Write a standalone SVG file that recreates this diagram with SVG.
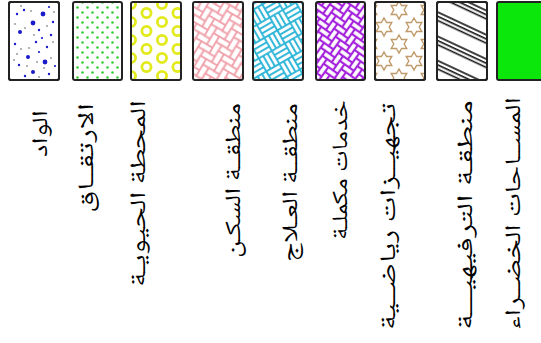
<svg xmlns="http://www.w3.org/2000/svg" xmlns:xlink="http://www.w3.org/1999/xlink" width="541" height="343" viewBox="0 0 541 343">
<style>
.sw{stroke:#222;stroke-width:2}
.lbl{font-family:"Noto Naskh Arabic","DejaVu Sans",sans-serif;font-size:22px;fill:#000}
.bd{fill:#1a1acc}
.gd{fill:#555}
</style>
<defs>
<path id="star" d="M0,-9 L2.6,-4.5 L7.79,-4.5 L5.2,0 L7.79,4.5 L2.6,4.5 L0,9 L-2.6,4.5 L-7.79,4.5 L-5.2,0 L-7.79,-4.5 L-2.6,-4.5 Z" fill="none" stroke="#c09a6a" stroke-width="1.4"/>
<pattern id="pGreen" width="10" height="10" patternUnits="userSpaceOnUse">
<circle cx="2.5" cy="2.5" r="1.3" fill="#3c3"/><circle cx="7.5" cy="7.5" r="1.3" fill="#3c3"/>
</pattern>
<pattern id="pYellow" width="31" height="18" patternUnits="userSpaceOnUse">
<g fill="none" stroke="#e2ea1c" stroke-width="2.8">
<circle cx="7" cy="4" r="4.6"/><circle cx="38" cy="4" r="4.6"/><circle cx="7" cy="22" r="4.6"/><circle cx="38" cy="22" r="4.6"/>
<circle cx="22.5" cy="13" r="4.6"/><circle cx="-8.5" cy="13" r="4.6"/><circle cx="22.5" cy="-5" r="4.6"/><circle cx="-8.5" cy="-5" r="4.6"/>
</g>
</pattern>
<g id="hb">
<rect x="-1" y="-1" width="2" height="1"/><rect x="3" y="-1" width="2" height="1"/><rect x="0" y="0" width="2" height="1"/><rect x="4" y="0" width="2" height="1"/>
<rect x="1" y="1" width="2" height="1"/><rect x="2" y="2" width="2" height="1"/><rect x="-2" y="2" width="2" height="1"/><rect x="3" y="3" width="2" height="1"/>
<rect x="-1" y="3" width="2" height="1"/><rect x="4" y="4" width="2" height="1"/><rect x="0" y="4" width="2" height="1"/>
<rect x="1" y="-2" width="1" height="2"/><rect x="2" y="-1" width="1" height="2"/><rect x="-1" y="0" width="1" height="2"/><rect x="3" y="0" width="1" height="2"/>
<rect x="0" y="1" width="1" height="2"/><rect x="4" y="1" width="1" height="2"/><rect x="1" y="2" width="1" height="2"/><rect x="2" y="3" width="1" height="2"/>
<rect x="3" y="4" width="1" height="2"/><rect x="-1" y="4" width="1" height="2"/>
</g>
<pattern id="pPink" width="4" height="4" patternUnits="userSpaceOnUse" patternTransform="rotate(30) scale(6.5)">
<use xlink:href="#hb" href="#hb" fill="#fff" stroke="#f0a0aa" stroke-width="0.26"/>
</pattern>
<pattern id="pPurple" width="4" height="4" patternUnits="userSpaceOnUse" patternTransform="rotate(35) scale(5.8)">
<use xlink:href="#hb" href="#hb" fill="#fff" stroke="#a522dd" stroke-width="0.36"/>
</pattern>
<pattern id="pCyan" width="30" height="30" patternUnits="userSpaceOnUse" patternTransform="rotate(-30)">
<g fill="#fff" stroke="#2bb5d8" stroke-width="1.8">
<rect x="0" y="0" width="15" height="5"/><rect x="0" y="5" width="15" height="5"/><rect x="0" y="10" width="15" height="5"/>
<rect x="15" y="0" width="5" height="15"/><rect x="20" y="0" width="5" height="15"/><rect x="25" y="0" width="5" height="15"/>
<rect x="0" y="15" width="5" height="15"/><rect x="5" y="15" width="5" height="15"/><rect x="10" y="15" width="5" height="15"/>
<rect x="15" y="15" width="15" height="5"/><rect x="15" y="20" width="15" height="5"/><rect x="15" y="25" width="15" height="5"/>
</g>
</pattern>
<pattern id="pStar" width="30" height="34" patternUnits="userSpaceOnUse">
<use xlink:href="#star" href="#star" x="9" y="10"/><use xlink:href="#star" href="#star" x="39" y="10"/><use xlink:href="#star" href="#star" x="9" y="44"/><use xlink:href="#star" href="#star" x="39" y="44"/>
<use xlink:href="#star" href="#star" x="24" y="27"/><use xlink:href="#star" href="#star" x="-6" y="27"/><use xlink:href="#star" href="#star" x="24" y="-7"/><use xlink:href="#star" href="#star" x="-6" y="-7"/>
</pattern>
<pattern id="pStripe" width="22" height="22" patternUnits="userSpaceOnUse" patternTransform="rotate(25)">
<g stroke="#111" stroke-width="1.6"><line x1="-1" y1="2" x2="23" y2="2"/><line x1="-1" y1="5.8" x2="23" y2="5.8"/><line x1="-1" y1="9.6" x2="23" y2="9.6"/></g>
</pattern>
</defs>
<rect width="541" height="343" fill="#fff"/>

<g id="item-wadi">
<rect class="sw" x="9" y="2" width="50" height="78" rx="2" fill="#fff"/>
<g transform="translate(9,2)">
<circle class="bd" cx="34" cy="12" r="2.4"/><circle class="bd" cx="24" cy="21" r="2.4"/><circle class="bd" cx="36" cy="60" r="2.4"/><circle class="bd" cx="19" cy="55" r="2"/><circle class="bd" cx="11" cy="30" r="2"/><circle class="bd" cx="24" cy="70" r="2"/>
<circle class="bd" cx="8" cy="12" r="1.2"/><circle class="bd" cx="15" cy="8" r="1.2"/><circle class="bd" cx="40" cy="5" r="1.1"/><circle class="bd" cx="44" cy="20" r="1.2"/><circle class="bd" cx="30" cy="28" r="1.2"/><circle class="bd" cx="42" cy="33" r="1.2"/><circle class="bd" cx="6" cy="42" r="1.2"/><circle class="bd" cx="27" cy="40" r="1.2"/><circle class="bd" cx="38" cy="45" r="1.2"/><circle class="bd" cx="10" cy="63" r="1.2"/><circle class="bd" cx="30" cy="50" r="1.1"/><circle class="bd" cx="16" cy="74" r="1.2"/><circle class="bd" cx="40" cy="72" r="1.2"/><circle class="bd" cx="46" cy="64" r="1.1"/><circle class="bd" cx="33" cy="36" r="1.1"/>
<circle class="gd" cx="12" cy="4" r="0.8"/><circle class="gd" cx="22" cy="9" r="0.8"/><circle class="gd" cx="45" cy="10" r="0.8"/><circle class="gd" cx="6" cy="22" r="0.8"/><circle class="gd" cx="16" cy="26" r="0.8"/><circle class="gd" cx="38" cy="24" r="0.8"/><circle class="gd" cx="25" cy="33" r="0.8"/><circle class="gd" cx="12" cy="47" r="0.8"/><circle class="gd" cx="44" cy="40" r="0.8"/><circle class="gd" cx="35" cy="66" r="0.8"/><circle class="gd" cx="28" cy="60" r="0.8"/><circle class="gd" cx="18" cy="64" r="0.8"/><circle class="gd" cx="42" cy="56" r="0.8"/><circle class="gd" cx="5" cy="58" r="0.8"/><circle class="gd" cx="30" cy="75" r="0.8"/><circle class="gd" cx="20" cy="46" r="0.8"/><circle class="gd" cx="8" cy="52" r="0.8"/>
</g>
<rect class="sw" x="9" y="2" width="50" height="78" rx="2" fill="none"/>
<text class="lbl" transform="translate(47,110) rotate(-90)" text-anchor="end" textLength="47" lengthAdjust="spacingAndGlyphs">الواد</text>
</g>

<g id="item-irtiqaq">
<rect class="sw" x="73" y="2" width="49" height="78" rx="2" fill="url(#pGreen)"/>
<text class="lbl" transform="translate(93,103) rotate(-90)" text-anchor="end" textLength="110" lengthAdjust="spacingAndGlyphs">الارتقــاق</text>
</g>

<g id="item-station">
<rect class="sw" x="131" y="2" width="50" height="78" rx="2" fill="url(#pYellow)"/>
<text class="lbl" transform="translate(145,100) rotate(-90)" text-anchor="end" textLength="187" lengthAdjust="spacingAndGlyphs">المحطة الحيويـة</text>
</g>

<g id="item-housing">
<rect class="sw" x="193" y="2" width="50" height="78" rx="2" fill="url(#pPink)"/>
<text class="lbl" transform="translate(240,103) rotate(-90)" text-anchor="end" textLength="155" lengthAdjust="spacingAndGlyphs">منطقــة السكـن</text>
</g>

<g id="item-treatment">
<rect class="sw" x="253" y="2" width="50" height="78" rx="2" fill="url(#pCyan)"/>
<text class="lbl" transform="translate(297,103) rotate(-90)" text-anchor="end" textLength="159" lengthAdjust="spacingAndGlyphs">منطقــة العـلاج</text>
</g>

<g id="item-services">
<rect class="sw" x="316" y="2" width="49" height="78" rx="2" fill="url(#pPurple)"/>
<text class="lbl" transform="translate(347,100) rotate(-90)" text-anchor="end" textLength="140" lengthAdjust="spacingAndGlyphs">خدمات مكملـة</text>
</g>

<g id="item-sports">
<rect class="sw" x="375" y="2" width="50" height="78" rx="2" fill="#fff"/>
<rect x="375" y="2" width="50" height="78" fill="url(#pStar)"/>
<rect class="sw" x="375" y="2" width="50" height="78" rx="2" fill="none"/>
<text class="lbl" transform="translate(395,103) rotate(-90)" text-anchor="end" textLength="227" lengthAdjust="spacingAndGlyphs">تجهيــزات رياضــية</text>
</g>

<g id="item-recreation">
<rect class="sw" x="437" y="2" width="50" height="78" rx="2" fill="#fff"/>
<rect x="437" y="2" width="50" height="78" fill="url(#pStripe)"/>
<rect class="sw" x="437" y="2" width="50" height="78" rx="2" fill="none"/>
<text class="lbl" transform="translate(472,100) rotate(-90)" text-anchor="end" textLength="230" lengthAdjust="spacingAndGlyphs">منطقـة الترفيهيـــة</text>
</g>

<g id="item-green">
<rect class="sw" x="497" y="2" width="50" height="78" rx="2" fill="#0be60b"/>
<text class="lbl" transform="translate(520,97) rotate(-90)" text-anchor="end" textLength="233" lengthAdjust="spacingAndGlyphs">المســاحات الخضــراء</text>
</g>
</svg>
